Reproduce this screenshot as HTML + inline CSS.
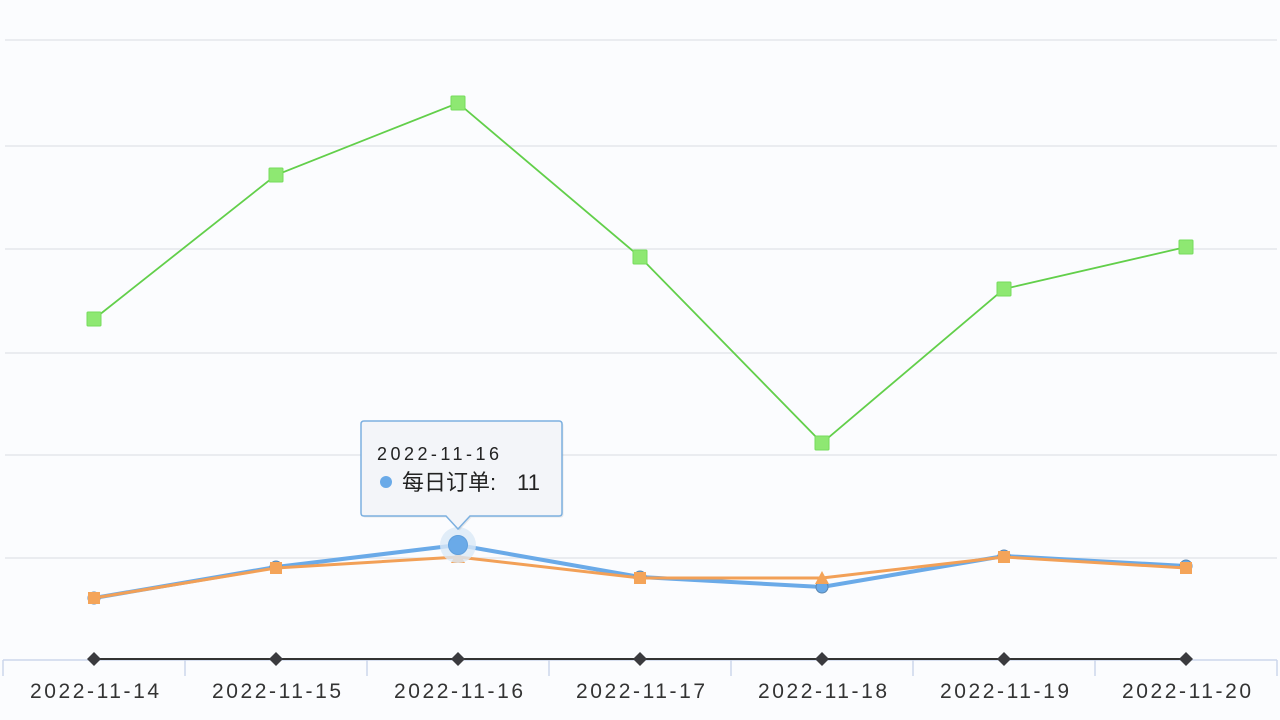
<!DOCTYPE html>
<html><head><meta charset="utf-8">
<style>
html,body{margin:0;padding:0;background:#fbfcfe;}
svg{display:block;}
text{font-family:"Liberation Sans","Noto Sans CJK SC",sans-serif;}
</style></head>
<body>
<svg width="1280" height="720" viewBox="0 0 1280 720" xmlns="http://www.w3.org/2000/svg">
<rect width="1280" height="720" fill="#fbfcfe"/>
<!-- grid -->
<g stroke="#e4e7ec" stroke-width="1.5">
<line x1="5" y1="40" x2="1277" y2="40"/>
<line x1="5" y1="146" x2="1277" y2="146"/>
<line x1="5" y1="249" x2="1277" y2="249"/>
<line x1="5" y1="353" x2="1277" y2="353"/>
<line x1="5" y1="455" x2="1277" y2="455"/>
<line x1="5" y1="558" x2="1277" y2="558"/>
</g>
<!-- x axis -->
<g stroke="#ccd6eb" stroke-width="1.5">
<line x1="3" y1="660" x2="1277" y2="660"/>
<line x1="3" y1="660" x2="3" y2="676"/>
<line x1="185" y1="660" x2="185" y2="676"/>
<line x1="367" y1="660" x2="367" y2="676"/>
<line x1="549" y1="660" x2="549" y2="676"/>
<line x1="731" y1="660" x2="731" y2="676"/>
<line x1="913" y1="660" x2="913" y2="676"/>
<line x1="1095" y1="660" x2="1095" y2="676"/>
<line x1="1277" y1="660" x2="1277" y2="676"/>
</g>
<g fill="#333" font-size="21">
<text x="30" y="698" textLength="129" lengthAdjust="spacing">2022-11-14</text>
<text x="212" y="698" textLength="129" lengthAdjust="spacing">2022-11-15</text>
<text x="394" y="698" textLength="129" lengthAdjust="spacing">2022-11-16</text>
<text x="576" y="698" textLength="129" lengthAdjust="spacing">2022-11-17</text>
<text x="758" y="698" textLength="129" lengthAdjust="spacing">2022-11-18</text>
<text x="940" y="698" textLength="129" lengthAdjust="spacing">2022-11-19</text>
<text x="1122" y="698" textLength="129" lengthAdjust="spacing">2022-11-20</text>
</g>
<!-- black series -->
<polyline points="94,659 276,659 458,659 640,659 822,659 1004,659 1186,659" fill="none" stroke="#333" stroke-width="2"/>
<g fill="#3a3a3e">
<path d="M94,652 L101,659 L94,666 L87,659Z"/>
<path d="M276,652 L283,659 L276,666 L269,659Z"/>
<path d="M458,652 L465,659 L458,666 L451,659Z"/>
<path d="M640,652 L647,659 L640,666 L633,659Z"/>
<path d="M822,652 L829,659 L822,666 L815,659Z"/>
<path d="M1004,652 L1011,659 L1004,666 L997,659Z"/>
<path d="M1186,652 L1193,659 L1186,666 L1179,659Z"/>
</g>
<!-- green series -->
<polyline points="94,319 276,175 458,103 640,257 822,443 1004,289 1186,247" fill="none" stroke="#62cf4a" stroke-width="1.8"/>
<g fill="#8ee872" stroke="#76dc5c" stroke-width="1">
<rect x="87" y="312" width="14" height="14" rx="1"/>
<rect x="269" y="168" width="14" height="14" rx="1"/>
<rect x="451" y="96" width="14" height="14" rx="1"/>
<rect x="633" y="250" width="14" height="14" rx="1"/>
<rect x="815" y="436" width="14" height="14" rx="1"/>
<rect x="997" y="282" width="14" height="14" rx="1"/>
<rect x="1179" y="240" width="14" height="14" rx="1"/>
</g>
<!-- blue series -->
<polyline points="94,598 276,567 458,545 640,577 822,587 1004,556 1186,566" fill="none" stroke="#6aaae8" stroke-width="4"/>
<g fill="#6aaae8" stroke="#5a86b0" stroke-width="1">
<circle cx="94" cy="598" r="6"/>
<circle cx="276" cy="567" r="6"/>
<circle cx="640" cy="577" r="6"/>
<circle cx="822" cy="587" r="6"/>
<circle cx="1004" cy="556" r="6"/>
<circle cx="1186" cy="566" r="6"/>
</g>
<!-- orange series -->
<polyline points="94,598 276,568 458,557 640,578 822,578 1004,557 1186,568" fill="none" stroke="#f2a057" stroke-width="3"/>
<g fill="#f4a459">
<rect x="88" y="592" width="12" height="12"/>
<rect x="270" y="562" width="12" height="12"/>
<path d="M458,550 L465,563 L451,563Z"/>
<rect x="634" y="572" width="12" height="12"/>
<path d="M822,571 L829,584 L815,584Z"/>
<rect x="998" y="551" width="12" height="12"/>
<rect x="1180" y="562" width="12" height="12"/>
</g>
<!-- hover marker -->
<circle cx="458" cy="545" r="18" fill="#dbe8f6" opacity="0.8"/>
<circle cx="458" cy="545" r="9.5" fill="#6aaae8" stroke="#5f9fdc" stroke-width="1"/>
<!-- tooltip -->
<path d="M364,421 L559,421 Q562,421 562,424 L562,513 Q562,516 559,516 L470,516 L458,529 L446,516 L364,516 Q361,516 361,513 L361,424 Q361,421 364,421Z" fill="#000" opacity="0.08" transform="translate(1.5,1.5)"/>
<path d="M364,421 L559,421 Q562,421 562,424 L562,513 Q562,516 559,516 L470,516 L458,529 L446,516 L364,516 Q361,516 361,513 L361,424 Q361,421 364,421Z" fill="#f3f5f9" stroke="#7cb0e0" stroke-width="1.5"/>
<text x="377" y="460" font-size="18" fill="#222" textLength="122" lengthAdjust="spacing">2022-11-16</text>
<circle cx="386" cy="482" r="6" fill="#6aaae8"/>
<text x="402" y="490" font-size="22" fill="#222">每日订单:</text>
<text x="517" y="490" font-size="22" fill="#222" textLength="23" lengthAdjust="spacing">11</text>
</svg>
</body></html>
